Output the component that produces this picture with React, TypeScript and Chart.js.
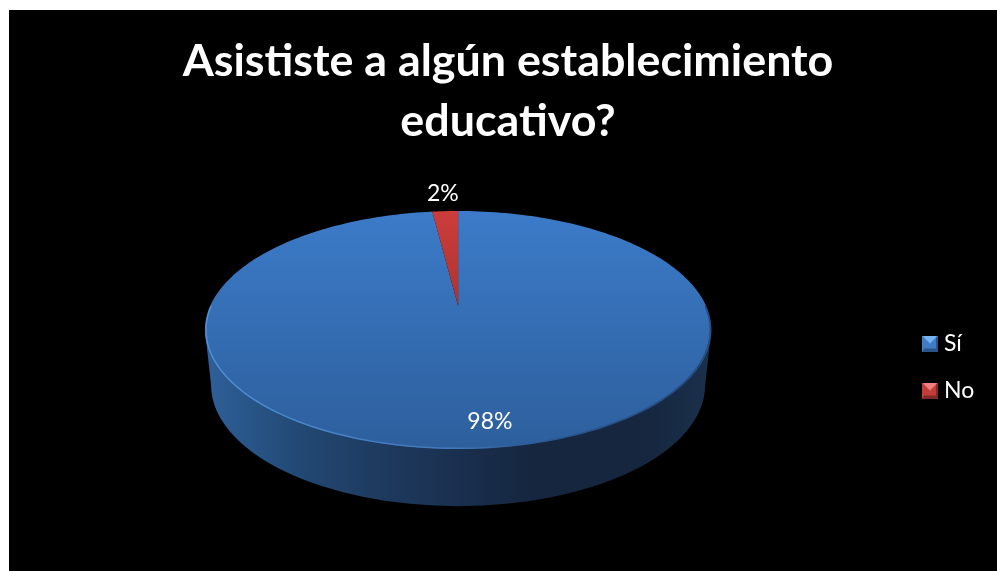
import React, { useEffect, useRef } from "react";
import { Chart, registerables } from "chart.js";

Chart.register(...registerables);

const titleLines = ["Asististe a algún establecimiento", "educativo?"];
const categories = ["Sí", "No"];
const values = [98, 2];
const faceTop = ["#3C7BC9", "#CC3D3A"];
const faceBottom = ["#2D5F9C", "#7E2422"];
const markerLight = ["#74B4F2", "#F08080"];
const markerMid = ["#3F7CC4", "#C23C39"];
const markerDark = ["#2A5488", "#7E2A28"];

const FONT = "Lato, Carlito, sans-serif";
const R = 248;
const A = 0.4605 * R; // vertical reach of the tilted circle
const K = -0.2017; // perspective strength
const SHIFT_X = -9.5; // pie sits a little left of the space the layout leaves it

function project(el: any, rho: number, alpha: number) {
  const u = rho * Math.cos(alpha);
  const d = rho * Math.sin(alpha);
  const w = 1 + K * d;
  return { x: el.x + SHIFT_X + (R * u) / w, y: el.y + (A * d) / w };
}

function makeMarker(i: number) {
  const c = document.createElement("canvas");
  c.width = 16;
  c.height = 16;
  const g = c.getContext("2d")!;
  g.fillStyle = markerMid[i];
  g.fillRect(0, 0, 16, 16);
  const tri = (pts: number[][], col: string) => {
    g.fillStyle = col;
    g.beginPath();
    pts.forEach((p, n) => (n ? g.lineTo(p[0], p[1]) : g.moveTo(p[0], p[1])));
    g.closePath();
    g.fill();
  };
  tri([[0, 0], [16, 0], [8, 8]], markerLight[i]);
  tri([[0, 16], [16, 16], [14, 13], [2, 13]], markerDark[i]);
  tri([[0, 0], [2, 2], [2, 14], [0, 16]], markerMid[i]);
  tri([[16, 0], [14, 2], [14, 14], [16, 16]], markerDark[i]);
  return c;
}

const pie3d = {
  id: "pie3d",
  afterLayout(chart: any) {
    // legend sits beside the pie, vertically lower than Chart.js would put it
    const lg = chart.legend;
    const h = lg.bottom - lg.top;
    lg.left = 894.5;
    lg.right = lg.left + lg.width;
    lg.top = 357 - h / 2;
    lg.bottom = lg.top + h;
  },
  beforeDatasetsDraw(chart: any) {
    const ctx = chart.ctx;
    const arcs = chart.getDatasetMeta(0).data;
    const el = arcs[0];
    const cx = el.x + SHIFT_X;
    const cy = el.y;
    // side wall
    const wall = ctx.createLinearGradient(cx - 253, 0, cx + 253, 0);
    wall.addColorStop(0, "#2F6099");
    wall.addColorStop(0.09, "#285587");
    wall.addColorStop(0.19, "#224873");
    wall.addColorStop(0.35, "#1E3A5F");
    wall.addColorStop(0.49, "#1A3050");
    wall.addColorStop(0.65, "#15263E");
    wall.addColorStop(0.86, "#15263E");
    wall.addColorStop(1, "#1B304B");
    ctx.save();
    ctx.beginPath();
    ctx.ellipse(cx, cy + 0.319 * R, 0.996 * R, 0.488 * R, 0, 0, Math.PI);
    ctx.lineTo(cx - 1.021 * R, cy + 0.097 * R);
    ctx.lineTo(cx + 1.021 * R, cy + 0.097 * R);
    ctx.closePath();
    ctx.fillStyle = wall;
    ctx.fill();
    ctx.restore();

    // slices drawn in perspective from the element's own angles
    arcs.forEach((arc: any, i: number) => {
      arc.draw = (c: CanvasRenderingContext2D) => {
        const grad = c.createLinearGradient(0, cy - 0.383 * R, 0, cy + 0.577 * R);
        grad.addColorStop(0, faceTop[i]);
        grad.addColorStop(1, faceBottom[i]);
        c.save();
        c.beginPath();
        c.moveTo(arc.x + SHIFT_X, arc.y);
        const n = 240;
        for (let s = 0; s <= n; s++) {
          const a = arc.startAngle + ((arc.endAngle - arc.startAngle) * s) / n;
          const p = project(arc, 1, a);
          c.lineTo(p.x, p.y);
        }
        c.closePath();
        c.fillStyle = grad;
        c.fill();
        c.restore();
      };
    });
  },
  afterDatasetsDraw(chart: any) {
    const ctx = chart.ctx;
    const arcs = chart.getDatasetMeta(0).data;
    const el = arcs[0];
    const cx = el.x + SHIFT_X;
    // bevel highlight along the front rim
    const rim = ctx.createLinearGradient(cx - 253, 0, cx + 253, 0);
    rim.addColorStop(0, "rgba(92,156,228,0.7)");
    rim.addColorStop(0.5, "rgba(92,156,228,0.4)");
    rim.addColorStop(0.72, "rgba(20,40,70,0.2)");
    rim.addColorStop(1, "rgba(20,40,70,0.5)");
    ctx.save();
    ctx.beginPath();
    for (let s = 0; s <= 200; s++) {
      const a = (Math.PI * s) / 200;
      const p = project(el, 0.996, a);
      if (s) ctx.lineTo(p.x, p.y);
      else ctx.moveTo(p.x, p.y);
    }
    ctx.strokeStyle = rim;
    ctx.lineWidth = 1.5;
    ctx.stroke();
    // percentage labels
    const total = values.reduce((a, b) => a + b, 0);
    ctx.fillStyle = "#FFFFFF";
    ctx.font = `23px ${FONT}`;
    ctx.textAlign = "center";
    ctx.textBaseline = "middle";
    arcs.forEach((arc: any, i: number) => {
      const mid = (arc.startAngle + arc.endAngle) / 2;
      const p = project(arc, i === 0 ? 0.84 : 1.23, mid);
      const dx = i === 0 ? 16 : 0;
      ctx.fillText(`${Math.round((values[i] / total) * 100)}%`, p.x + dx, p.y);
    });
    ctx.restore();
  },
};

export default function App() {
  const ref = useRef<HTMLCanvasElement>(null);
  useEffect(() => {
    const markers = categories.map((_, i) => makeMarker(i));
    const chart = new Chart(ref.current!, {
      type: "pie",
      data: {
        labels: categories,
        datasets: [{ data: values, backgroundColor: faceTop, borderWidth: 0, clip: false } as any],
      },
      options: {
        responsive: false,
        animation: false,
        radius: R,
        layout: { padding: { top: 0, left: 10, right: 0, bottom: 121 } },
        plugins: {
          tooltip: { enabled: false },
          title: {
            display: true,
            text: titleLines,
            color: "#FFFFFF",
            font: { family: FONT, size: 44.8, weight: "bold", lineHeight: 1.34 },
            padding: { top: 22, bottom: 10 },
          },
          legend: {
            position: "right",
            labels: {
              color: "#FFFFFF",
              font: { family: FONT, size: 23 },
              usePointStyle: true,
              boxWidth: 5,
              padding: 24,
              generateLabels: () =>
                categories.map((text, i) => ({
                  text,
                  fontColor: "#FFFFFF",
                  fillStyle: faceTop[i],
                  strokeStyle: "transparent",
                  lineWidth: 0,
                  pointStyle: markers[i],
                  hidden: false,
                  index: i,
                })),
            },
          },
        },
      } as any,
      plugins: [pie3d],
    });
    return () => chart.destroy();
  }, []);
  return (
    <canvas
      ref={ref}
      width={988}
      height={561}
      style={{ position: "fixed", left: 9, top: 10, background: "#000", display: "block" }}
    />
  );
}
